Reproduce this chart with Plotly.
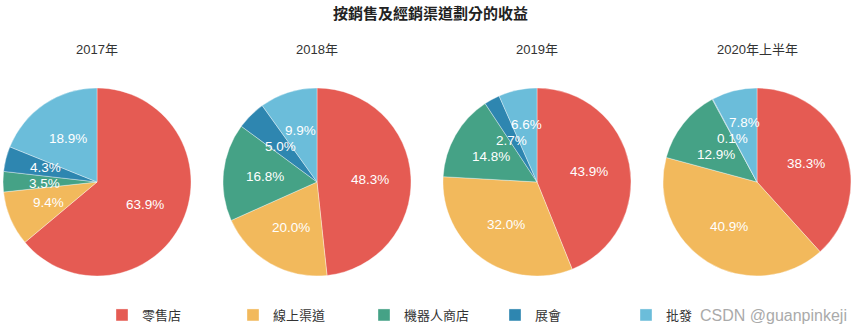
import math
import plotly.graph_objects as go

channels = ["零售店", "線上渠道", "機器人商店", "展會", "批發"]
periods = ["2017年", "2018年", "2019年", "2020年上半年"]
v2017 = [63.9, 9.4, 3.5, 4.3, 18.9]
v2018 = [48.3, 20.0, 16.8, 5.0, 9.9]
v2019 = [43.9, 32.0, 14.8, 2.7, 6.6]
v2020h1 = [38.3, 40.9, 12.9, 0.1, 7.8]
series = [v2017, v2018, v2019, v2020h1]
colors = ["#e55b53", "#f2b95c", "#45a286", "#2e86b0", "#6bbdda"]

W, H = 860, 333
centers_px = [97, 317, 537, 757]
cy_px = 182
R = 94
LABEL_R = 0.56 * R
MIN_GAP = 16
FONT = "Liberation Sans, Arial, Noto Sans CJK TC, sans-serif"

fig = go.Figure()
annotations = []
for i, (per, vals) in enumerate(zip(periods, series)):
    cx = centers_px[i]
    fig.add_trace(go.Pie(
        labels=channels, values=vals, sort=False, direction="clockwise", rotation=0,
        marker=dict(colors=colors, line=dict(color="rgba(255,255,255,0.6)", width=0.6)),
        textinfo="none", hoverinfo="label+percent", name=per,
        domain=dict(x=[(cx - R) / W, (cx + R) / W], y=[1 - (cy_px + R) / H, 1 - (cy_px - R) / H]),
        showlegend=(i == 0),
    ))
    annotations.append(dict(text=per, x=cx / W, y=1 - 50 / H, xref="paper", yref="paper",
                            xanchor="center", yanchor="middle", showarrow=False,
                            font=dict(size=13, color="#333", family=FONT)))
    total = sum(vals)
    cum = 0.0
    labs = []
    for v in vals:
        mid = (cum + v / 2) / total * 2 * math.pi
        cum += v
        txt = f"{v / total * 100:.1f}%"
        labs.append([cx + LABEL_R * math.sin(mid), cy_px - LABEL_R * math.cos(mid), txt])
    # simple vertical anti-overlap relaxation
    for _ in range(60):
        for a in range(len(labs)):
            for b in range(a + 1, len(labs)):
                la, lb = labs[a], labs[b]
                wmax = max(len(la[2]), len(lb[2])) * 7.6
                dx = la[0] - lb[0]
                dy = la[1] - lb[1]
                if abs(dx) < wmax and abs(dy) < MIN_GAP:
                    push = (MIN_GAP - abs(dy)) / 2
                    s = 1 if dy >= 0 else -1
                    la[1] += s * push
                    lb[1] -= s * push
    for x, y, txt in labs:
        annotations.append(dict(text=txt, x=x / W, y=1 - y / H, xref="paper", yref="paper",
                                xanchor="center", yanchor="middle", showarrow=False,
                                font=dict(size=13.5, color="white", family=FONT)))

annotations.append(dict(text="<b>按銷售及經銷渠道劃分的收益</b>", x=0.5, y=1 - 13 / H, xref="paper",
                        yref="paper", xanchor="center", yanchor="middle", showarrow=False,
                        font=dict(size=15, color="#222", family=FONT)))
annotations.append(dict(text="CSDN @guanpinkeji", x=849 / W, y=1 - 315 / H, xref="paper", yref="paper",
                        xanchor="right", yanchor="middle", showarrow=False,
                        font=dict(size=16, color="#aaa", family=FONT)))

fig.update_layout(
    width=W, height=H, margin=dict(l=0, r=0, t=0, b=0),
    paper_bgcolor="white", plot_bgcolor="white",
    annotations=annotations,
    legend=dict(orientation="h", x=102 / W, y=1 - 315 / H, xanchor="left", yanchor="middle",
                font=dict(size=13, color="#333", family=FONT), entrywidth=86,
                traceorder="normal"),
)
fig.write_html("out.html")
